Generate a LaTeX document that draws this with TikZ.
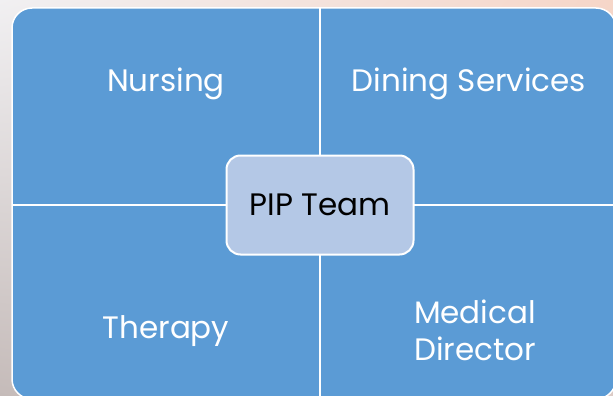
\documentclass[tikz,border=0pt]{standalone}
\usepackage{fontspec}
\setmainfont{Poppins}
\usetikzlibrary{shadings}
\definecolor{quadblue}{HTML}{5B9BD5}
\definecolor{teamfill}{HTML}{B4C8E6}
\definecolor{bgtl}{HTML}{F1F0F2}
\definecolor{bgtr}{HTML}{F6D6C8}
\definecolor{bgbl}{HTML}{C5BBB9}
\definecolor{bgbr}{HTML}{DCCBC6}
\begin{document}
\begin{tikzpicture}[x=1pt, y=-1pt,
  quadtext/.style={text=white, font=\fontsize{31}{37}\selectfont, align=center},
  teambox/.style={draw=white, line width=2pt, fill=teamfill, rounded corners=14pt,
    minimum width=187pt, minimum height=99pt, font=\fontsize{31}{37}\selectfont}]
\useasboundingbox (0,0) rectangle (613,396);
\shade[upper left=bgtl, upper right=bgtr, lower left=bgbl, lower right=bgbr] (0,0) rectangle (613,396);

% matrix of four quadrants
\draw[fill=quadblue, draw=white, line width=1.5pt, rounded corners=20pt] (12,8) rectangle (616,399);
\draw[white, line width=2.5pt] (320,8) -- (320,399);
\draw[white, line width=2.5pt] (12,205) -- (616,205);

\node[quadtext] (nursing) at (166,84) {Nursing};
\node[quadtext] (dining) at (469,84) {Dining Services};
\node[quadtext] (therapy) at (166,331) {Therapy};
\node[quadtext] (medical) at (475,330) {Medical\\Director};

\node[teambox] (team) at (320,205) {PIP Team};
\end{tikzpicture}
\end{document}
